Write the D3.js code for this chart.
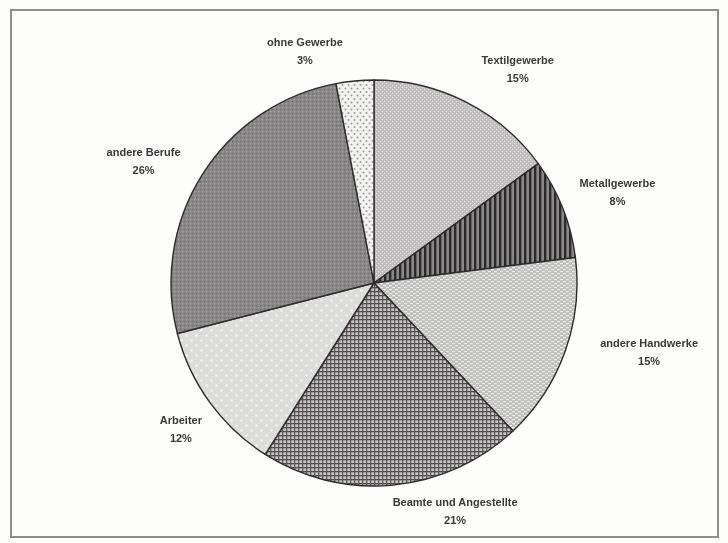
<!DOCTYPE html>
<html>
<head>
<meta charset="utf-8">
<script src="https://cdn.jsdelivr.net/npm/d3@7"></script>
<style>
  html, body { margin: 0; padding: 0; background: #fdfdfb; }
  svg { display: block; }
</style>
</head>
<body>
<div id="chart"></div>
<script>
// Berufsgruppen und ihre Anteile (in Prozent), im Uhrzeigersinn ab 12 Uhr
const categories = ["Textilgewerbe", "Metallgewerbe", "andere Handwerke",
  "Beamte und Angestellte", "Arbeiter", "andere Berufe", "ohne Gewerbe"];
const shares = [15, 8, 15, 21, 12, 26, 3];

// Layout
const W = 728, H = 543;
const cx = 374, cy = 283, R = 203;
const labelRadius = 235;
// horizontal / vertical shift of each label block from its anchor on the label ring
const labelShift = [[37, -5], [25, -5], [54, -11], [59, -6], [-3, 8], [-32, 4], [-47, 2]];

const svg = d3.select("#chart").append("svg")
  .attr("width", W).attr("height", H);

const defs = svg.append("defs");

// Fill patterns for the slices
function pat(id, size, build) {
  const p = defs.append("pattern").attr("id", id)
    .attr("patternUnits", "userSpaceOnUse")
    .attr("width", size[0]).attr("height", size[1]);
  build(p);
}
// Textilgewerbe: fine light dot screen
pat("p0", [4, 4], p => {
  p.append("rect").attr("width", 4).attr("height", 4).attr("fill", "#bebcbc");
  p.append("rect").attr("x", 0).attr("y", 0).attr("width", 1.2).attr("height", 1.2).attr("fill", "#e8e6e6");
  p.append("rect").attr("x", 2).attr("y", 2).attr("width", 1.2).attr("height", 1.2).attr("fill", "#e8e6e6");
});
// Metallgewerbe: dark vertical stripes
pat("p1", [5, 4], p => {
  p.append("rect").attr("width", 5).attr("height", 4).attr("fill", "#8a8888");
  p.append("rect").attr("x", 0).attr("width", 2.4).attr("height", 4).attr("fill", "#2c2a2c");
});
// andere Handwerke: light horizontal dashes
pat("p2", [6, 4], p => {
  p.append("rect").attr("width", 6).attr("height", 4).attr("fill", "#bcbcba");
  p.append("rect").attr("x", 0).attr("y", 0).attr("width", 3).attr("height", 1.3).attr("fill", "#ededeb");
  p.append("rect").attr("x", 3).attr("y", 2).attr("width", 3).attr("height", 1.3).attr("fill", "#ededeb");
});
// Beamte und Angestellte: plaid grid
pat("p3", [4, 4], p => {
  p.append("rect").attr("width", 4).attr("height", 4).attr("fill", "#c8c6c6");
  p.append("rect").attr("x", 0).attr("y", 0).attr("width", 4).attr("height", 1.3).attr("fill", "#4c484a");
  p.append("rect").attr("x", 0).attr("y", 0).attr("width", 1.3).attr("height", 4).attr("fill", "#5c585a");
});
// Arbeiter: very light with sparse white dots
pat("p4", [10, 10], p => {
  p.append("rect").attr("width", 10).attr("height", 10).attr("fill", "#dcdcda");
  p.append("circle").attr("cx", 2.5).attr("cy", 2.5).attr("r", 1.3).attr("fill", "#f4f4f2");
  p.append("circle").attr("cx", 7.5).attr("cy", 7.5).attr("r", 1.3).attr("fill", "#f4f4f2");
});
// andere Berufe: medium gray dotted screen
pat("p5", [4, 4], p => {
  p.append("rect").attr("width", 4).attr("height", 4).attr("fill", "#888687");
  p.append("rect").attr("x", 0).attr("y", 0).attr("width", 1.2).attr("height", 1.2).attr("fill", "#aba9aa");
  p.append("rect").attr("x", 2).attr("y", 2).attr("width", 1.2).attr("height", 1.2).attr("fill", "#6c6a6b");
});
// ohne Gewerbe: white with gray dots
pat("p6", [6, 7], p => {
  p.append("rect").attr("width", 6).attr("height", 7).attr("fill", "#f2f2f0");
  p.append("circle").attr("cx", 1.5).attr("cy", 1.5).attr("r", 1).attr("fill", "#9a9a9a");
  p.append("circle").attr("cx", 4.5).attr("cy", 5).attr("r", 1).attr("fill", "#9a9a9a");
});

// slight softening of the print
const soft = defs.append("filter").attr("id", "soft")
  .attr("x", "-5%").attr("y", "-5%").attr("width", "110%").attr("height", "110%");
soft.append("feGaussianBlur").attr("stdDeviation", 0.45);

// Frame
svg.append("rect")
  .attr("x", 11).attr("y", 10).attr("width", 707).attr("height", 527)
  .attr("fill", "none").attr("stroke", "#8e8e8e").attr("stroke-width", 2);

const data = categories.map((c, i) => ({ name: c, value: shares[i], i }));

const pie = d3.pie().value(d => d.value).sort(null)
  .startAngle(0).endAngle(2 * Math.PI);
const arc = d3.arc().innerRadius(0).outerRadius(R);
const arcs = pie(data);

const g = svg.append("g").attr("transform", `translate(${cx},${cy})`)
  .attr("filter", "url(#soft)");

g.selectAll("path.slice").data(arcs).join("path")
  .attr("class", "slice")
  .attr("d", arc)
  .attr("fill", d => `url(#p${d.data.i})`)
  .attr("stroke", "#2e2c2e")
  .attr("stroke-width", 1.4)
  .attr("stroke-linejoin", "round");

// Labels: name and percentage, outside the pie
const labelArc = d3.arc().innerRadius(labelRadius).outerRadius(labelRadius);
const lbl = svg.append("g").attr("transform", `translate(${cx},${cy})`)
  .attr("font-family", "'Liberation Sans', Arial, sans-serif")
  .attr("font-size", 11).attr("font-weight", "bold")
  .attr("fill", "#3a383a").attr("text-anchor", "middle")
  .attr("filter", "url(#soft)");

arcs.forEach((d, k) => {
  const [x, y] = labelArc.centroid(d);
  const sx = x + labelShift[k][0], sy = y + labelShift[k][1];
  const t = lbl.append("text").attr("x", sx).attr("y", sy - 5);
  t.append("tspan").attr("x", sx).attr("dy", 0).text(d.data.name);
  t.append("tspan").attr("x", sx).attr("dy", 18).text(d.data.value + "%");
});
</script>
</body>
</html>
